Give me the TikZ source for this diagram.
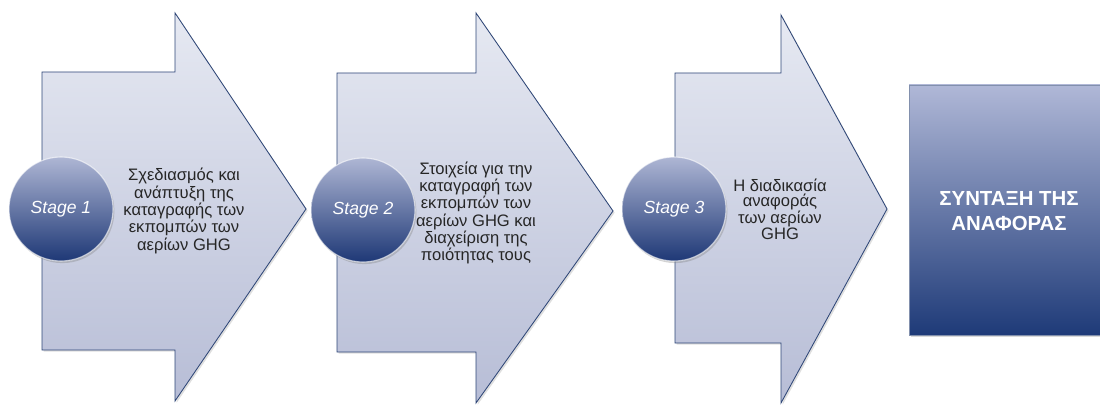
\documentclass[tikz,border=0pt]{standalone}
\usepackage{fontspec}
\setmainfont{Liberation Sans}
\usetikzlibrary{shadows}
\definecolor{arrtop}{HTML}{E6E9F2}
\definecolor{arrbot}{HTML}{B7BDD6}
\definecolor{arredge}{HTML}{2E4677}
\definecolor{balltop}{HTML}{AEB6D4}
\definecolor{ballbot}{HTML}{1E3876}
\definecolor{boxtop}{HTML}{B0B8D7}
\definecolor{boxbot}{HTML}{1E3A78}
\tikzset{
  stagearrow/.style={draw=arredge, line width=0.6pt, top color=arrtop, bottom color=arrbot,
    drop shadow={shadow xshift=1.2pt, shadow yshift=-1.2pt, opacity=0.25}},
  stageball/.style={circle, minimum size=26mm, inner sep=0pt, top color=balltop, bottom color=ballbot,
    draw=white, draw opacity=0.6, line width=0.8pt, text=white, font=\itshape\fontsize{12.5}{14}\selectfont,
    drop shadow={shadow xshift=1pt, shadow yshift=-1.5pt, opacity=0.35}},
  stagetext/.style={align=center, font=\fontsize{11.8}{11}\selectfont, text=black!85},
  reportbox/.style={draw=arredge!60, line width=0.5pt, top color=boxtop, bottom color=boxbot,
    drop shadow={shadow xshift=1.2pt, shadow yshift=-1.2pt, opacity=0.3}}
}
\begin{document}
\begin{tikzpicture}[x=0.25mm, y=-0.25mm, line join=miter]
  \useasboundingbox (0,0) rectangle (1100,405);
  % arrows
  \draw[stagearrow] (42,72)--(175,72)--(175,13)--(306,209)--(175,401)--(175,350)--(42,350)--cycle;
  \draw[stagearrow] (337,73)--(476,73)--(476,13)--(613,211)--(476,403)--(476,352)--(337,352)--cycle;
  \draw[stagearrow] (675,73)--(781,73)--(781,15)--(887,209)--(781,403)--(781,343)--(675,343)--cycle;
  % texts
  \node[stagetext] (t1) at (184,211) {Σχεδιασμός και\\ανάπτυξη της\\καταγραφής των\\εκπομπών των\\αερίων GHG};
  \node[stagetext] (t2) at (476,213) {Στοιχεία για την\\καταγραφή των\\εκπομπών των\\αερίων GHG και\\διαχείριση της\\ποιότητας τους};
  \node[stagetext] (t3) at (780,209) {Η διαδικασία\\αναφοράς\\των αερίων\\GHG};
  % balls
  \node[stageball] (s1) at (61,209) {Stage 1};
  \node[stageball] (s2) at (363,210) {Stage 2};
  \node[stageball] (s3) at (674,209) {Stage 3};
  % box
  \draw[reportbox] (909,85) rectangle (1102,335);
  \node[align=center, text=white, font=\bfseries\fontsize{14.5}{18}\selectfont] (rep) at (1009,211) {ΣΥΝΤΑΞΗ ΤΗΣ\\ΑΝΑΦΟΡΑΣ};
\end{tikzpicture}
\end{document}
